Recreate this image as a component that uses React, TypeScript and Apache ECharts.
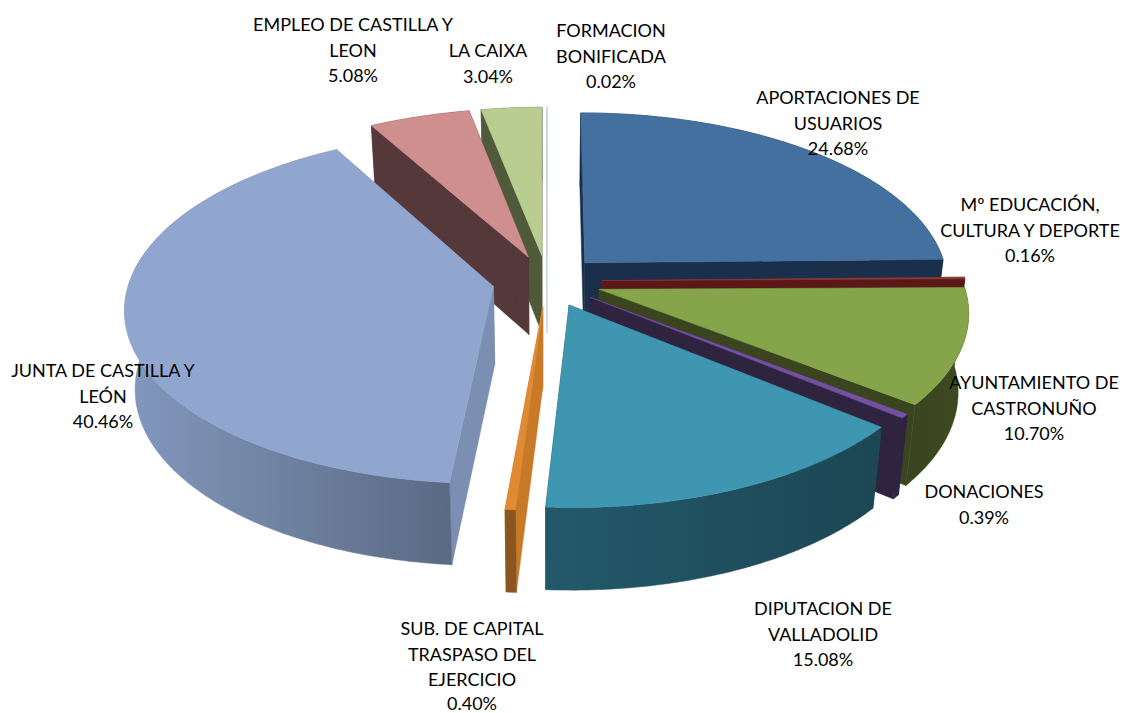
import React, { useEffect, useRef } from "react";
import * as echarts from "echarts";

const names = [
  "APORTACIONES DE\nUSUARIOS",
  "Mº EDUCACIÓN,\nCULTURA Y DEPORTE",
  "AYUNTAMIENTO DE\nCASTRONUÑO",
  "DONACIONES",
  "DIPUTACION DE\nVALLADOLID",
  "SUB. DE CAPITAL\nTRASPASO DEL\nEJERCICIO",
  "JUNTA DE CASTILLA Y\nLEÓN",
  "EMPLEO DE CASTILLA Y\nLEON",
  "LA CAIXA",
  "FORMACION\nBONIFICADA",
];
const values = [24.68, 0.16, 10.7, 0.39, 15.08, 0.4, 40.46, 5.08, 3.04, 0.02];

const topColors = ["#44709f", "#8f3f3c", "#86a44a", "#7350a0", "#3f96b0", "#e08a33", "#90a6cf", "#cf8f8f", "#b9cd91", "#c9ced8"];
const radialColors = ["#1a2f4c", "#5a1818", "#3a441f", "#2e2440", "#1f4d5c", "#c87a28", "#7a8fb1", "#55393a", "#4e5a3a", "#c9ced8"];
const outerStops = [
  ["#1a2f4c", "#1a2f4c"],
  ["#5a1818", "#5a1818"],
  ["#3a441f", "#3f4a20"],
  ["#2e2440", "#2e2440"],
  ["#22596a", "#1d4654"],
  ["#8a5520", "#8a5520"],
  ["#8298bd", "#5a6a84"],
  ["#55393a", "#55393a"],
  ["#4e5a3a", "#4e5a3a"],
  ["#c9ced8", "#c9ced8"],
];

// centre x and centre y of the first line of each label
const labelAnchors = [
  [838, 97], [1030, 204], [1034, 382], [984, 491], [823, 608],
  [472, 628], [103, 370], [353, 24], [488, 50], [611, 30],
];
const LINE_STEP = 25.6;

const CX = 547, CY = 281, RX = 364, RY = 172, PERSP = 0.12, EXPLODE = 0.15;
const DEPTH = 78, DEPTH_FRONT = 4, NARROW = 0.975;
const total = values.reduce((a, b) => a + b, 0);

const slices = (() => {
  let acc = 0;
  return values.map((v) => {
    const a0 = (acc / total) * Math.PI * 2;
    acc += v;
    const a1 = (acc / total) * Math.PI * 2;
    return { a0, a1, mid: (a0 + a1) / 2 };
  });
})();
const drawOrder = values
  .map((_, i) => i)
  .sort((p, q) => -Math.cos(slices[p].mid) + Math.cos(slices[q].mid));

function project(X: number, Y: number, lower: boolean) {
  const s = 1 / (1 - PERSP * Y);
  const x = CX + X * RX * s;
  const y = CY + Y * RY * s;
  if (!lower) return [x, y];
  return [CX + (x - CX) * NARROW, y + DEPTH + DEPTH_FRONT * Y];
}

function renderItem(_params: any, api: any) {
  const i = api.value(0) as number;
  const { a0, a1, mid } = slices[i];
  const ex = EXPLODE * Math.sin(mid);
  const ey = -EXPLODE * Math.cos(mid);
  const steps = Math.max(1, Math.ceil(((a1 - a0) * 180) / Math.PI));
  const upper: number[][] = [];
  const lowerArc: number[][] = [];
  for (let k = 0; k <= steps; k++) {
    const a = a0 + ((a1 - a0) * k) / steps;
    const X = ex + Math.sin(a);
    const Y = ey - Math.cos(a);
    upper.push(project(X, Y, false));
    lowerArc.push(project(X, Y, true));
  }
  const apexTop = project(ex, ey, false);
  const apexLow = project(ex, ey, true);
  const wall = (idx: number) => [apexTop, upper[idx], lowerArc[idx], apexLow];
  const poly = (points: number[][], fill: any, stroke?: string) => ({
    type: "polygon",
    shape: { points },
    style: { fill, stroke: stroke || fill, lineWidth: stroke ? 1 : 0.5 },
  });
  const gradient = {
    type: "linear", x: 0, y: 0, x2: 1, y2: 0,
    colorStops: [
      { offset: 0, color: outerStops[i][0] },
      { offset: 1, color: outerStops[i][1] },
    ],
  };
  return {
    type: "group",
    children: [
      poly(wall(0), radialColors[i]),
      poly(wall(steps), radialColors[i]),
      poly([...upper, ...lowerArc.slice().reverse()], gradient),
      poly([apexTop, ...upper], topColors[i]),
    ],
  };
}

const labelElements = names.flatMap((n, i) =>
  `${n}\n${values[i].toFixed(2)}%`.split("\n").map((line, k) => ({
    type: "text",
    x: labelAnchors[i][0],
    y: Math.min(labelAnchors[i][1] + k * LINE_STEP, 703),
    z: 10,
    silent: true,
    style: {
      text: line,
      fill: "#000000",
      font: '18px Lato, "Open Sans", sans-serif',
      textAlign: "center",
      textVerticalAlign: "middle",
    },
  }))
);

export default function App() {
  const ref = useRef<HTMLDivElement>(null);
  useEffect(() => {
    document.body.style.margin = "0";
    const chart = echarts.init(ref.current!, undefined, { renderer: "svg" });
    chart.setOption({
      animation: false,
      backgroundColor: "#ffffff",
      series: [
        {
          type: "custom",
          coordinateSystem: "none",
          silent: true,
          clip: false,
          renderItem,
          data: drawOrder.map((i) => [i, values[i]]),
          z: 1,
        },
      ],
      graphic: labelElements,
    });
    return () => chart.dispose();
  }, []);
  return <div ref={ref} style={{ width: 1123, height: 713 }} />;
}
